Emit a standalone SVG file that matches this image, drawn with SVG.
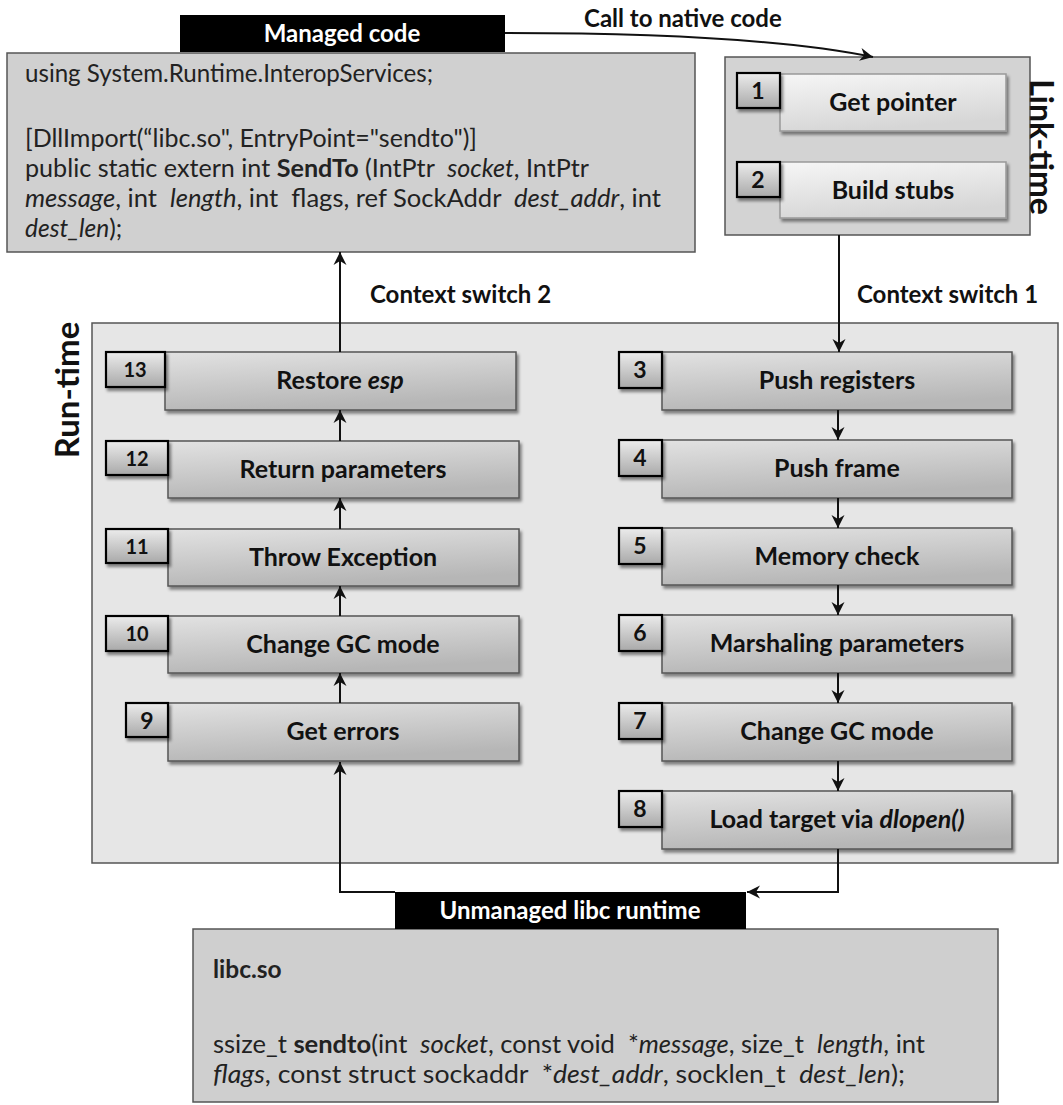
<svg xmlns="http://www.w3.org/2000/svg" width="1063" height="1105" viewBox="0 0 1063 1105">
  <style>
    text { font-family: Lato, "Liberation Sans", sans-serif; fill: #111; }
    .lbl { font-size: 25px; font-weight: bold; text-anchor: middle; }
    .num { font-size: 23px; font-weight: bold; text-anchor: middle; }
    .num2 { font-size: 20px; font-weight: bold; text-anchor: middle; }
    .code { font-size: 24.5px; fill: #222; white-space: pre; }
    .head { font-size: 24px; font-weight: bold; fill: #fff; text-anchor: middle; }
    .note { font-size: 24px; font-weight: bold; }
    .side { font-size: 33px; font-weight: bold; text-anchor: middle; }
    .b { font-weight: bold; }
    .i { font-style: italic; }
    .step { fill: url(#stepFill); stroke: #555; stroke-width: 1.5; filter: url(#shadow); }
    .badge { fill: url(#badgeFill); stroke: #000; stroke-width: 2.2; filter: url(#shadow); }
    .lstep { fill: url(#linkFill); stroke: #999; stroke-width: 1.5; filter: url(#shadow); }
    .panel { stroke: #555; stroke-width: 1.5; }
    .wire { fill: none; stroke: #111; stroke-width: 2; }
  </style>
  <defs>
    <linearGradient id="stepFill" x1="0" y1="0" x2="0.3" y2="1">
      <stop offset="0" stop-color="#e2e2e2"/>
      <stop offset="1" stop-color="#b6b6b6"/>
    </linearGradient>
    <linearGradient id="badgeFill" x1="0" y1="0" x2="0" y2="1">
      <stop offset="0" stop-color="#ececec"/>
      <stop offset="1" stop-color="#a9a9a9"/>
    </linearGradient>
    <linearGradient id="linkFill" x1="0" y1="0" x2="0.3" y2="1">
      <stop offset="0" stop-color="#f6f6f6"/>
      <stop offset="1" stop-color="#d6d6d6"/>
    </linearGradient>
    <filter id="shadow" x="-10%" y="-20%" width="130%" height="160%">
      <feDropShadow dx="2" dy="3" stdDeviation="1.8" flood-color="#000" flood-opacity="0.45"/>
    </filter>
    <marker id="arrow" markerUnits="userSpaceOnUse" markerWidth="14" markerHeight="14" refX="13" refY="7" orient="auto">
      <path d="M0,0.5 L13,7 L0,13.5 L4,7 z" fill="#111"/>
    </marker>
  </defs>

  <!-- Managed code panel -->
  <g id="managed-code">
    <rect class="panel" x="7" y="53" width="688" height="199" fill="#d0d0d0"/>
    <rect x="180" y="15" width="325" height="37" fill="#000"/>
    <text class="head" x="342" y="42">Managed code</text>
    <text class="code" x="25" y="82" textLength="408" lengthAdjust="spacingAndGlyphs">using System.Runtime.InteropServices;</text>
    <text class="code" x="25" y="147" textLength="452" lengthAdjust="spacingAndGlyphs">[DllImport(“libc.so", EntryPoint="sendto")]</text>
    <text class="code" x="25" y="177" textLength="564" lengthAdjust="spacingAndGlyphs" xml:space="preserve">public static extern int <tspan class="b">SendTo</tspan> (IntPtr  <tspan class="i">socket</tspan>, IntPtr</text>
    <text class="code" x="25" y="207" textLength="636" lengthAdjust="spacingAndGlyphs" xml:space="preserve"><tspan class="i">message</tspan>, int  <tspan class="i">length</tspan>, int  flags, ref SockAddr  <tspan class="i">dest_addr</tspan>, int</text>
    <text class="code" x="25" y="237"><tspan class="i">dest_len</tspan>);</text>
  </g>

  <!-- Link-time panel -->
  <g id="link-time">
    <rect class="panel" x="725" y="57" width="305" height="178" fill="#d3d3d3"/>
    <text class="side" style="font-size:32px" transform="translate(1030,147) rotate(90)">Link-time</text>
  </g>
  <g id="step-1">
    <rect class="lstep" x="780" y="74" width="226" height="57"/>
    <rect class="badge" x="737" y="73" width="43" height="35"/>
    <text class="num" x="758" y="99">1</text>
    <text class="lbl" x="893" y="111">Get pointer</text>
  </g>
  <g id="step-2">
    <rect class="lstep" x="780" y="162" width="226" height="56"/>
    <rect class="badge" x="737" y="162" width="43" height="35"/>
    <text class="num" x="758" y="188">2</text>
    <text class="lbl" x="893" y="199">Build stubs</text>
  </g>

  <!-- Run-time panel -->
  <g id="run-time">
    <rect class="panel" x="92" y="323" width="966" height="540" fill="#e6e6e6"/>
    <text class="side" transform="translate(79,390) rotate(-90)">Run-time</text>
  </g>

  <!-- Outbound steps (right column) -->
  <g id="step-3">
    <rect class="step" x="662" y="352" width="350" height="58"/>
    <rect class="badge" x="619" y="352" width="43" height="36"/>
    <text class="num" x="640" y="378">3</text>
    <text class="lbl" x="837" y="389">Push registers</text>
  </g>
  <g id="step-4">
    <rect class="step" x="662" y="440" width="350" height="58"/>
    <rect class="badge" x="619" y="440" width="43" height="36"/>
    <text class="num" x="640" y="466">4</text>
    <text class="lbl" x="837" y="477">Push frame</text>
  </g>
  <g id="step-5">
    <rect class="step" x="662" y="528" width="350" height="57"/>
    <rect class="badge" x="619" y="528" width="43" height="36"/>
    <text class="num" x="640" y="554">5</text>
    <text class="lbl" x="837" y="565">Memory check</text>
  </g>
  <g id="step-6">
    <rect class="step" x="662" y="615" width="350" height="58"/>
    <rect class="badge" x="619" y="615" width="43" height="36"/>
    <text class="num" x="640" y="641">6</text>
    <text class="lbl" x="837" y="652">Marshaling parameters</text>
  </g>
  <g id="step-7">
    <rect class="step" x="662" y="703" width="350" height="58"/>
    <rect class="badge" x="619" y="703" width="43" height="36"/>
    <text class="num" x="640" y="729">7</text>
    <text class="lbl" x="837" y="740">Change GC mode</text>
  </g>
  <g id="step-8">
    <rect class="step" x="662" y="791" width="350" height="58"/>
    <rect class="badge" x="619" y="791" width="43" height="36"/>
    <text class="num" x="640" y="817">8</text>
    <text class="lbl" x="837" y="828">Load target via <tspan class="i">dlopen()</tspan></text>
  </g>

  <!-- Return steps (left column) -->
  <g id="step-9">
    <rect class="step" x="168" y="703" width="351" height="58"/>
    <rect class="badge" x="126" y="703" width="42" height="34"/>
    <text class="num" x="147" y="729">9</text>
    <text class="lbl" x="343" y="740">Get errors</text>
  </g>
  <g id="step-10">
    <rect class="step" x="168" y="616" width="351" height="57"/>
    <rect class="badge" x="106" y="616" width="62" height="35"/>
    <text class="num2" x="137" y="641">10</text>
    <text class="lbl" x="343" y="653">Change GC mode</text>
  </g>
  <g id="step-11">
    <rect class="step" x="168" y="529" width="351" height="57"/>
    <rect class="badge" x="106" y="529" width="62" height="34"/>
    <text class="num2" x="137" y="554">11</text>
    <text class="lbl" x="343" y="566">Throw Exception</text>
  </g>
  <g id="step-12">
    <rect class="step" x="168" y="441" width="351" height="57"/>
    <rect class="badge" x="106" y="441" width="62" height="34"/>
    <text class="num2" x="137" y="466">12</text>
    <text class="lbl" x="343" y="478">Return parameters</text>
  </g>
  <g id="step-13">
    <rect class="step" x="165" y="352" width="351" height="58"/>
    <rect class="badge" x="106" y="352" width="59" height="35"/>
    <text class="num2" x="135" y="377">13</text>
    <text class="lbl" x="340" y="389">Restore <tspan class="i">esp</tspan></text>
  </g>

  <!-- Unmanaged libc panel -->
  <g id="libc">
    <rect class="panel" x="193" y="929" width="805" height="173" fill="#cfcfcf"/>
    <rect x="395" y="892" width="351" height="37" fill="#000"/>
    <text class="head" x="570" y="919">Unmanaged libc runtime</text>
    <text class="code b" x="213" y="978">libc.so</text>
    <text class="code" x="213" y="1053" textLength="712" lengthAdjust="spacingAndGlyphs" xml:space="preserve">ssize_t <tspan class="b">sendto</tspan>(int  <tspan class="i">socket</tspan>, const void  *<tspan class="i">message</tspan>, size_t  <tspan class="i">length</tspan>, int</text>
    <text class="code" x="213" y="1083" textLength="692" lengthAdjust="spacingAndGlyphs" xml:space="preserve"><tspan class="i">flags</tspan>, const struct sockaddr  *<tspan class="i">dest_addr</tspan>, socklen_t  <tspan class="i">dest_len</tspan>);</text>
  </g>

  <!-- Connectors -->
  <g id="connectors">
    <path class="wire" d="M505,33 C660,33 790,40 873,57" marker-end="url(#arrow)"/>
    <text class="note" x="584" y="27">Call to native code</text>
    <path class="wire" d="M839,235 V352" marker-end="url(#arrow)"/>
    <text class="note" x="857" y="303">Context switch 1</text>
    <path class="wire" d="M340,352 V252" marker-end="url(#arrow)"/>
    <text class="note" x="370" y="303">Context switch 2</text>
    <path class="wire" d="M838,410 V440" marker-end="url(#arrow)"/>
    <path class="wire" d="M838,498 V528" marker-end="url(#arrow)"/>
    <path class="wire" d="M838,585 V615" marker-end="url(#arrow)"/>
    <path class="wire" d="M838,673 V703" marker-end="url(#arrow)"/>
    <path class="wire" d="M838,761 V791" marker-end="url(#arrow)"/>
    <path class="wire" d="M838,849 V892 H747" marker-end="url(#arrow)"/>
    <path class="wire" d="M395,892 H340 V762" marker-end="url(#arrow)"/>
    <path class="wire" d="M340,703 V673" marker-end="url(#arrow)"/>
    <path class="wire" d="M340,616 V586" marker-end="url(#arrow)"/>
    <path class="wire" d="M340,529 V498" marker-end="url(#arrow)"/>
    <path class="wire" d="M340,441 V410" marker-end="url(#arrow)"/>
  </g>
</svg>
